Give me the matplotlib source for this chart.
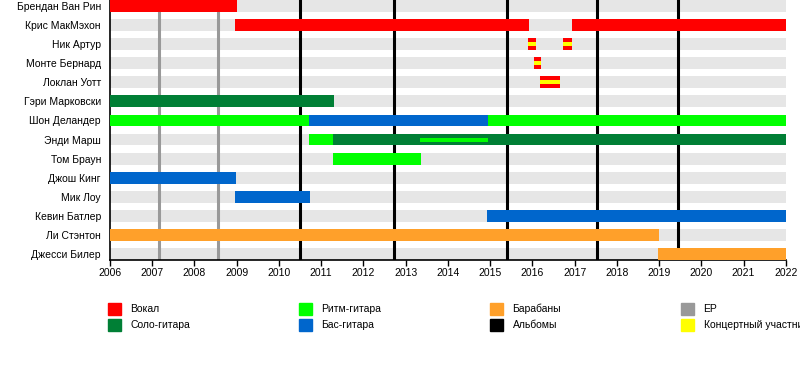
import matplotlib.pyplot as plt
from matplotlib.patches import Rectangle

plt.rcParams['font.family'] = ['Liberation Sans', 'DejaVu Sans']

# участники
members = ['Брендан Ван Рин', 'Крис МакМэхон', 'Ник Артур', 'Монте Бернард',
           'Локлан Уотт', 'Гэри Марковски', 'Шон Деландер', 'Энди Марш',
           'Том Браун', 'Джош Кинг', 'Мик Лоу', 'Кевин Батлер',
           'Ли Стэнтон', 'Джесси Билер']

# периоды: (участник, начало, конец, роль)
periods = [
    (0, 2006.0, 2009.0, 'vocal'),
    (1, 2008.95, 2015.91, 'vocal'),
    (1, 2016.93, 2022.0, 'vocal'),
    (2, 2015.89, 2016.08, 'touring'),
    (2, 2016.72, 2016.95, 'touring'),
    (3, 2016.05, 2016.21, 'touring'),
    (4, 2016.17, 2016.65, 'touring'),
    (5, 2006.0, 2011.3, 'lead'),
    (6, 2006.0, 2010.71, 'rhythm'),
    (6, 2010.71, 2014.94, 'bass'),
    (6, 2014.94, 2022.0, 'rhythm'),
    (7, 2010.71, 2011.28, 'rhythm'),
    (7, 2011.28, 2022.0, 'lead'),
    (8, 2011.28, 2013.36, 'rhythm'),
    (9, 2006.0, 2008.98, 'bass'),
    (10, 2008.95, 2010.73, 'bass'),
    (11, 2014.92, 2022.0, 'bass'),
    (12, 2006.0, 2019.0, 'drums'),
    (13, 2018.97, 2022.0, 'drums'),
]
# тонкая полоса (вторая роль)
thin_periods = [(7, 2013.33, 2014.94, 'rhythm')]

albums = [2010.5, 2012.72, 2015.4, 2017.53, 2019.45]
eps = [2007.16, 2008.56]

start_year, end_year = 2006.0, 2022.0

colors = {'vocal': '#ff0000', 'lead': '#007f35', 'rhythm': '#00ff00',
          'bass': '#0066cc', 'drums': '#ffa02a', 'albums': '#000000',
          'ep': '#999999', 'touring': '#ffff00'}

legend_items = [('Вокал', 'vocal'), ('Соло-гитара', 'lead'),
                ('Ритм-гитара', 'rhythm'), ('Бас-гитара', 'bass'),
                ('Барабаны', 'drums'), ('Альбомы', 'albums'),
                ('EP', 'ep'), ('Концертный участник', 'touring')]

fig = plt.figure(figsize=(8, 3.8), dpi=100)
ax = fig.add_axes([110 / 800, 1 - 260 / 380, 676 / 800, 260 / 380])

h = 0.62
rows = list(range(len(members)))

# серый фон
ax.barh(rows, end_year - start_year, left=start_year, height=h,
        color='#e6e6e6', zorder=1)

for x in eps:
    ax.axvline(x, color=colors['ep'], lw=2.2, zorder=2)
for x in albums:
    ax.axvline(x, color=colors['albums'], lw=2.2, zorder=2)

for r, s, e, role in periods:
    if role == 'touring':
        ax.barh(r, e - s, left=s, height=h, color=colors['vocal'], zorder=3)
        ax.barh(r, e - s, left=s, height=h / 3, color=colors['touring'], zorder=4)
    else:
        ax.barh(r, e - s, left=s, height=h, color=colors[role], zorder=3)

for r, s, e, role in thin_periods:
    ax.barh(r, e - s, left=s, height=h / 3, color=colors[role], zorder=4)

ax.set_xlim(start_year, end_year + 0.005)
ax.set_ylim(len(members) - 1 + h / 2, -h / 2)
ax.set_yticks(rows)
ax.set_yticklabels(members, fontsize=7.5)
ax.tick_params(axis='y', length=0, pad=6.5)
ax.set_xticks(range(2006, 2023))
ax.tick_params(axis='x', labelsize=7.5, length=4, width=1, pad=2)
for sp in ['top', 'right']:
    ax.spines[sp].set_visible(False)
for sp in ['left', 'bottom']:
    ax.spines[sp].set_linewidth(1.2)

# легенда
col_x = [108, 299, 490, 681]
row_y = [302.5, 318.5]
for i, (label, key) in enumerate(legend_items):
    cx = col_x[i // 2]
    cy = row_y[i % 2]
    fig.patches.append(Rectangle((cx / 800, 1 - (cy + 12.5) / 380), 12.5 / 800, 12.5 / 380,
                                 transform=fig.transFigure, color=colors[key]))
    fig.text((cx + 22.5) / 800, 1 - (cy + 6.5) / 380, label, fontsize=7.5,
             va='center', ha='left')

fig.savefig('out.png', dpi=100)
